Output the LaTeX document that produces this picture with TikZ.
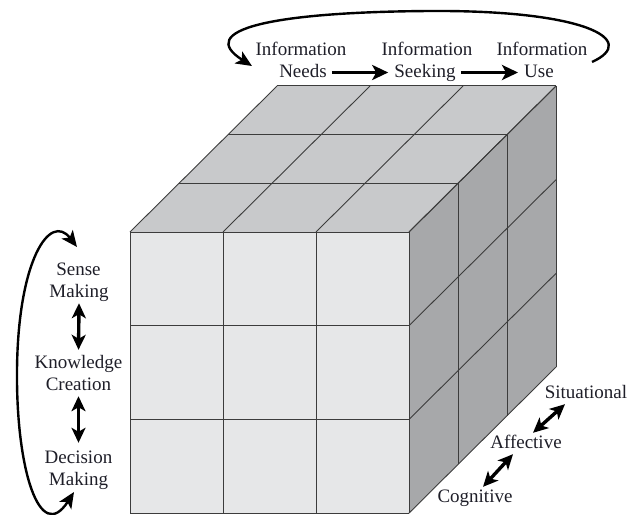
\documentclass[tikz,border=0pt]{standalone}
\usepackage{fontspec}
\setmainfont{Liberation Serif}
\newfontfamily\lblfont{Liberation Serif}
\usetikzlibrary{arrows.meta,calc}
\definecolor{frontc}{HTML}{E6E7E8}
\definecolor{topc}{HTML}{C8C9CB}
\definecolor{rightc}{HTML}{A7A8AA}
\definecolor{linec}{HTML}{3C3C3C}
\definecolor{txtc}{HTML}{1E1E28}
\begin{document}
\begin{tikzpicture}[x=1pt,y=-1pt,
  lbl/.style={font=\lblfont\fontsize{19}{22}\selectfont, text=txtc, text height=13pt, text depth=4pt, inner sep=2pt, anchor=base},
  cubeline/.style={draw=linec, line width=0.9pt},
  bigarrow/.style={line width=3.8pt, -{Stealth[length=16pt,width=15pt,inset=4pt]}},
  dblarrow/.style={line width=3.4pt, {Stealth[length=15pt,width=14pt,inset=4pt]}-{Stealth[length=15pt,width=14pt,inset=4pt]}},
  cyclearrow/.style={line width=2.4pt, -{Stealth[length=16pt,width=14pt,inset=4pt]}},
  cyclearrows/.style={line width=2.4pt, {Stealth[length=16pt,width=14pt,inset=4pt]}-{Stealth[length=16pt,width=14pt,inset=4pt]}}]
\useasboundingbox (0,0) rectangle (628,514);

% ---- cube faces
\fill[frontc] (130,232) rectangle (409,513);
\fill[topc] (130,232) -- (409,232) -- (556,86) -- (277,86) -- cycle;
\fill[rightc] (409,232) -- (556,86) -- (556,367) -- (409,513) -- cycle;
\foreach \i in {0,1,2,3} {
  \draw[cubeline] (130+93*\i,232) -- (130+93*\i,513);
  \draw[cubeline] (130,232+93.7*\i) -- (409,232+93.7*\i);
  \draw[cubeline] (130+93*\i,232) -- (277+93*\i,86);
  \draw[cubeline] (130+49*\i,232-48.7*\i) -- (409+49*\i,232-48.7*\i);
  \draw[cubeline] (409+49*\i,232-48.7*\i) -- (409+49*\i,513-48.7*\i);
  \draw[cubeline] (409,232+93.7*\i) -- (556,86+93.7*\i);
}

% ---- top labels
\node[lbl] (info1) at (301,55) {Information};
\node[lbl] (needs) at (303,77) {Needs};
\node[lbl] (info2) at (427,55) {Information};
\node[lbl] (seeking) at (425,77) {Seeking};
\node[lbl] (info3) at (542,55) {Information};
\node[lbl] (use) at (539,77) {Use};
\draw[bigarrow, shorten <=3pt, shorten >=4pt] (needs.east) -- (needs.east -| seeking.west);
\draw[bigarrow, shorten <=3pt, shorten >=4pt] (seeking.east) -- (seeking.east -| use.west);

\coordinate (tl1) at (592,62);
\coordinate (tl2) at (252,66);
\draw[cyclearrow] (tl1) .. controls (640,40) and (585,10) .. (430,11)
                        .. controls (270,12) and (195,30) .. (tl2);

% ---- left labels
\node[lbl] (sense) at (78.5,275) {Sense};
\node[lbl] (making1) at (79,297) {Making};
\node[lbl] (know) at (78.5,368) {Knowledge};
\node[lbl] (creation) at (78.5,390) {Creation};
\node[lbl] (decision) at (78.5,463) {Decision};
\node[lbl] (making2) at (78.5,485) {Making};
\draw[dblarrow, shorten >=3pt] (making1.south) -- (know.north);
\draw[dblarrow, shorten >=5pt] (creation.south) -- (creation.south |- decision.north);

\coordinate (ll1) at (77,247);
\coordinate (ll2) at (74,492);
\draw[cyclearrows] (ll1) .. controls (50,212) and (18,260) .. (17,370)
                         .. controls (16,470) and (40,545) .. (ll2);

% ---- bottom right labels
\node[lbl] (situational) at (586,398) {Situational};
\node[lbl] (affective) at (526,448) {Affective};
\node[lbl] (cognitive) at (475,502) {Cognitive};
\draw[dblarrow] ($(cognitive.north)+(8,0)$) -- ($(affective.south)+(-13,0)$);
\draw[dblarrow] ($(affective.north)+(7,0)$) -- ($(situational.south)+(-21,0)$);
\end{tikzpicture}
\end{document}
